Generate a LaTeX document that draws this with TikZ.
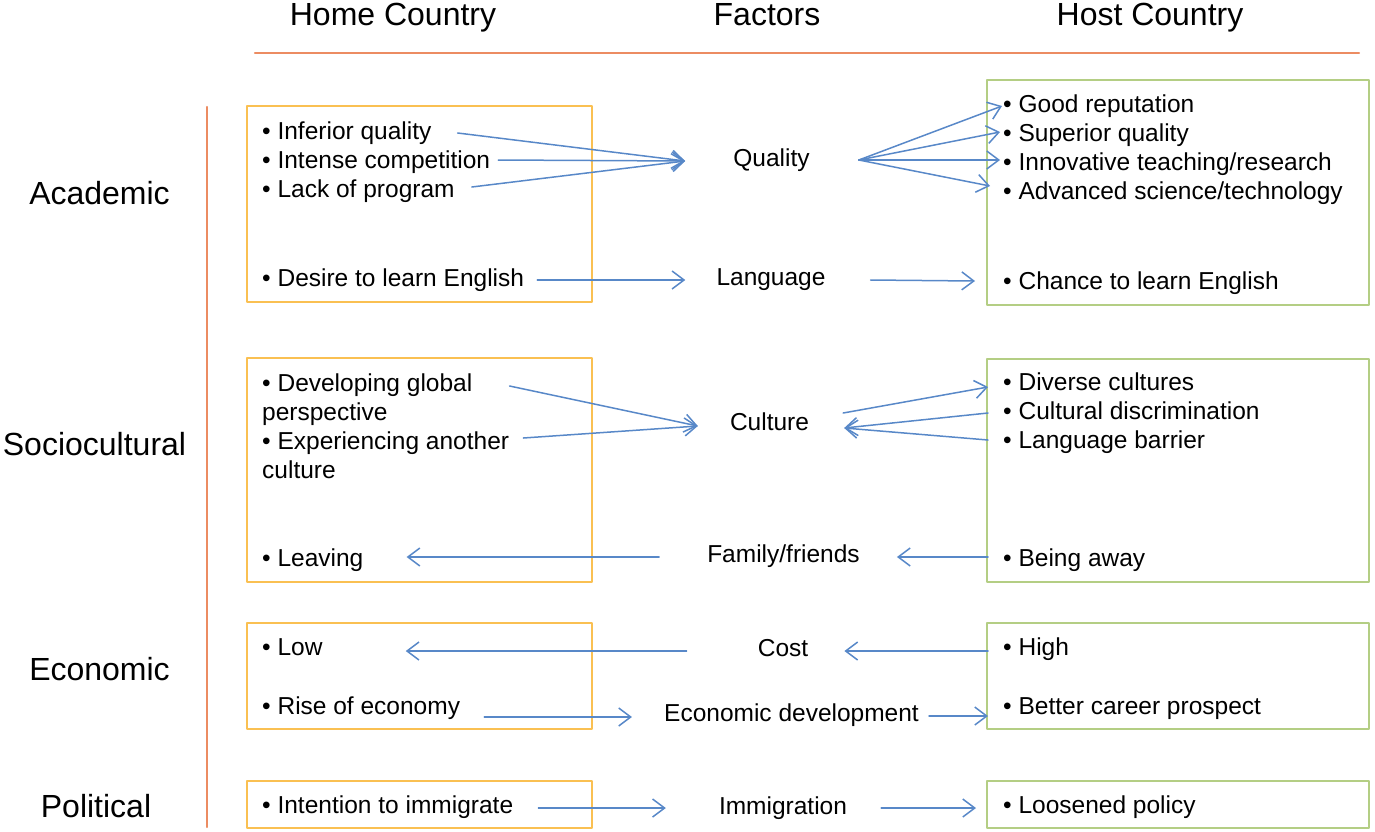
\documentclass[tikz,border=0pt]{standalone}
\usepackage{fontspec}
\setmainfont{Liberation Sans}
\usetikzlibrary{arrows.meta}
\definecolor{ruleorange}{RGB}{236,140,98}
\definecolor{homeorange}{RGB}{250,192,82}
\definecolor{hostgreen}{RGB}{180,206,132}
\definecolor{arrowblue}{RGB}{88,136,200}
\begin{document}
\begin{tikzpicture}[x=1pt,y=-1pt,line cap=round,line join=round,
	item/.style={anchor=base west,inner sep=0pt,text height=18pt,text depth=6pt,font=\fontsize{24.5}{29}\selectfont},
	factor/.style={anchor=base,inner sep=0pt,text height=18pt,text depth=6pt,font=\fontsize{24.5}{29}\selectfont},
	head/.style={anchor=base,inner sep=0pt,font=\fontsize{32}{38}\selectfont},
	homebox/.style={draw=homeorange,line width=2.4pt},
	hostbox/.style={draw=hostgreen,line width=2.4pt},
	rule/.style={draw=ruleorange,line width=2.4pt},
	arr/.style={draw=arrowblue,line width=1.5pt,-{Straight Barb[length=12pt,width=18pt]}}]
	\useasboundingbox (0,0) rectangle (1375,831);
	% headings and rules
	\node[head] (home) at (393,25) {Home Country};
	\node[head] (fact) at (767,25) {Factors};
	\node[head] (host) at (1150,25) {Host Country};
	\draw [rule] (255,53) -- (1359,53);
	\draw [rule] (207,107) -- (207,827);
	\node[head] (acad) at (99.5,204) {Academic};
	\node[head] (soc) at (94.5,455) {Sociocultural};
	\node[head] (eco) at (99.5,680) {Economic};
	\node[head] (pol) at (96,817) {Political};
	% boxes
	\draw [homebox] (247,106) rectangle (592,302);
	\draw [homebox] (247,358) rectangle (592,582);
	\draw [homebox] (247,623) rectangle (592,729);
	\draw [homebox] (247,781) rectangle (592,828);
	\draw [hostbox] (987,80) rectangle (1369,305);
	\draw [hostbox] (987,359) rectangle (1369,582);
	\draw [hostbox] (987,623) rectangle (1369,729);
	\draw [hostbox] (987,781) rectangle (1369,828);
	% home country
	\node[item] (inf) at (262,139) {• Inferior quality};
	\node[item] (int) at (262,168) {• Intense competition};
	\node[item] (lack) at (262,197) {• Lack of program};
	\node[item] (desire) at (262,286) {• Desire to learn English};
	\node[item] (dev) at (262,391) {• Developing global};
	\node[item] (dev2) at (262,420) {perspective};
	\node[item] (exp) at (262,449) {• Experiencing another};
	\node[item] (exp2) at (262,478) {culture};
	\node[item] (leave) at (262,566) {• Leaving};
	\node[item] (low) at (262,655) {• Low};
	\node[item] (rise) at (262,714) {• Rise of economy};
	\node[item] (intent) at (262,813) {• Intention to immigrate};
	% factors
	\node[factor] (qual) at (771.5,166) {Quality};
	\node[factor] (lang) at (771,285) {Language};
	\node[factor] (cult) at (769.5,430) {Culture};
	\node[factor] (fam) at (783.5,562) {Family/friends};
	\node[factor] (cost) at (783,656) {Cost};
	\node[factor] (econ) at (791.5,721) {Economic development};
	\node[factor] (immi) at (783,814) {Immigration};
	% host country
	\node[item] (good) at (1003,112) {• Good reputation};
	\node[item] (supq) at (1003,141) {• Superior quality};
	\node[item] (innov) at (1003,170) {• Innovative teaching/research};
	\node[item] (adv) at (1003,199) {• Advanced science/technology};
	\node[item] (chance) at (1003,289) {• Chance to learn English};
	\node[item] (div) at (1003,390) {• Diverse cultures};
	\node[item] (discr) at (1003,419) {• Cultural discrimination};
	\node[item] (langb) at (1003,448) {• Language barrier};
	\node[item] (away) at (1003,566) {• Being away};
	\node[item] (high) at (1003,655) {• High};
	\node[item] (career) at (1003,714) {• Better career prospect};
	\node[item] (loose) at (1003,813) {• Loosened policy};
	% academic
	\draw [arr] ([shift={(26,0)}]inf.east) -- ([shift={(-48,1)}]qual.west);
	\draw [arr] ([shift={(8,-2)}]int.east) -- ([shift={(-48,1)}]qual.west);
	\draw [arr] ([shift={(17,-4)}]lack.east) -- ([shift={(-48,1)}]qual.west);
	\draw [arr] ([shift={(49,0)}]qual.east) -- ([shift={(-1,0)}]good.west);
	\draw [arr] ([shift={(49,0)}]qual.east) -- ([shift={(-3,-3)}]supq.west);
	\draw [arr] ([shift={(49,0)}]qual.east) -- ([shift={(-3,-4)}]innov.west);
	\draw [arr] ([shift={(49,0)}]qual.east) -- ([shift={(-13,-7)}]adv.west);
	\draw [arr] ([shift={(13,0)}]desire.east) -- ([shift={(-31,1)}]lang.west);
	\draw [arr] ([shift={(45,1)}]lang.east) -- ([shift={(-28,-2)}]chance.west);
	% sociocultural
	\draw [arr] ([shift={(37,1)}]dev.east) -- ([shift={(-32,2)}]cult.west);
	\draw [arr] ([shift={(14,-5)}]exp.east) -- ([shift={(-32,2)}]cult.west);
	\draw [arr] ([shift={(34,-11)}]cult.east) -- ([shift={(-15,3)}]div.west);
	\draw [arr] ([shift={(-15,0)}]discr.west) -- ([shift={(35,4)}]cult.east);
	\draw [arr] ([shift={(-15,-2)}]langb.west) -- ([shift={(35,4)}]cult.east);
	\draw [arr] ([shift={(-48,1)}]fam.west) -- ([shift={(43,-3)}]leave.east);
	\draw [arr] ([shift={(-15,-3)}]away.west) -- ([shift={(37,1)}]fam.east);
	% economic
	\draw [arr] ([shift={(-71,1)}]cost.west) -- ([shift={(83,2)}]low.east);
	\draw [arr] ([shift={(-15,2)}]high.west) -- ([shift={(36,1)}]cost.east);
	\draw [arr] ([shift={(24,9)}]rise.east) -- ([shift={(-32,2)}]econ.west);
	\draw [arr] ([shift={(10,1)}]econ.east) -- ([shift={(-15,8)}]career.west);
	% political
	\draw [arr] ([shift={(25,1)}]intent.east) -- ([shift={(-53,0)}]immi.west);
	\draw [arr] ([shift={(34,0)}]immi.east) -- ([shift={(-27,1)}]loose.west);
\end{tikzpicture}
\end{document}
